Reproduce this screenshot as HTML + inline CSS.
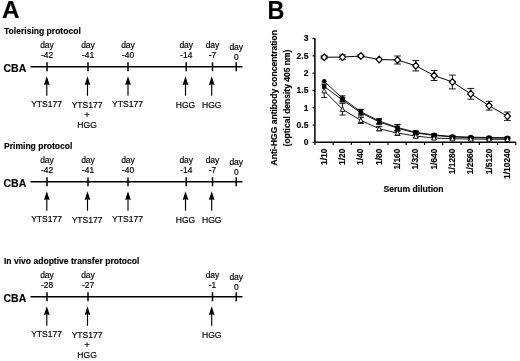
<!DOCTYPE html>
<html><head><meta charset="utf-8"><title>Figure</title>
<style>
html,body{margin:0;padding:0;background:#fff;}
svg{display:block;will-change:transform;}
text{font-family:"Liberation Sans",sans-serif;fill:#000;}
.b{font-weight:bold;}
.r{font-weight:normal;stroke:#000;stroke-width:0.18px;}
.b{stroke:#000;stroke-width:0.14px;}
</style></head>
<body>
<svg width="520" height="361" viewBox="0 0 520 361">
<rect width="520" height="361" fill="#fff"/>
<text x="2.0" y="17.7" class="b" font-size="24.3">A</text>
<text x="267.5" y="18.7" class="b" font-size="25.4" textLength="16.9" lengthAdjust="spacingAndGlyphs">B</text>
<text x="4" y="33.55" class="b" font-size="8.55">Tolerising protocol</text>
<text x="3.5" y="71.95" class="b" font-size="10.5">CBA</text>
<line x1="30.5" y1="66.75" x2="242.5" y2="66.75" stroke="#000" stroke-width="1.6"/>
<line x1="47" y1="62.25" x2="47" y2="71.25" stroke="#000" stroke-width="1.5"/>
<line x1="88" y1="62.25" x2="88" y2="71.25" stroke="#000" stroke-width="1.5"/>
<line x1="128" y1="62.25" x2="128" y2="71.25" stroke="#000" stroke-width="1.5"/>
<line x1="186.25" y1="62.25" x2="186.25" y2="71.25" stroke="#000" stroke-width="1.5"/>
<line x1="212.5" y1="62.25" x2="212.5" y2="71.25" stroke="#000" stroke-width="1.5"/>
<line x1="236.25" y1="62.25" x2="236.25" y2="71.25" stroke="#000" stroke-width="1.5"/>
<text x="47" y="48.15" class="r" text-anchor="middle" font-size="8.5">day</text>
<text x="47" y="58.20" class="r" text-anchor="middle" font-size="8.4">-42</text>
<text x="88" y="48.15" class="r" text-anchor="middle" font-size="8.5">day</text>
<text x="88" y="58.20" class="r" text-anchor="middle" font-size="8.4">-41</text>
<text x="128" y="48.15" class="r" text-anchor="middle" font-size="8.5">day</text>
<text x="128" y="58.20" class="r" text-anchor="middle" font-size="8.4">-40</text>
<text x="186.25" y="48.15" class="r" text-anchor="middle" font-size="8.5">day</text>
<text x="186.25" y="58.20" class="r" text-anchor="middle" font-size="8.4">-14</text>
<text x="212.5" y="48.15" class="r" text-anchor="middle" font-size="8.5">day</text>
<text x="212.5" y="58.20" class="r" text-anchor="middle" font-size="8.4">-7</text>
<text x="236.25" y="49.75" class="r" text-anchor="middle" font-size="8.5">day</text>
<text x="236.25" y="59.80" class="r" text-anchor="middle" font-size="8.4">0</text>
<line x1="46.8" y1="83.75" x2="46.8" y2="95.75" stroke="#000" stroke-width="1.15"/>
<path d="M46.8 76.15 L49.65 84.95 L46.8 84.25 L43.949999999999996 84.95 Z" fill="#000"/>
<text x="46.6" y="107.35" class="r" text-anchor="middle" font-size="8.55">YTS177</text>
<line x1="87.5" y1="83.75" x2="87.5" y2="95.75" stroke="#000" stroke-width="1.15"/>
<path d="M87.5 76.15 L90.35 84.95 L87.5 84.25 L84.65 84.95 Z" fill="#000"/>
<text x="87.1" y="107.75" class="r" text-anchor="middle" font-size="8.55">YTS177</text>
<text x="87.1" y="118.30" class="r" text-anchor="middle" font-size="9.5">+</text>
<text x="87.1" y="127.95" class="r" text-anchor="middle" font-size="8.55">HGG</text>
<line x1="128" y1="83.75" x2="128" y2="95.75" stroke="#000" stroke-width="1.15"/>
<path d="M128 76.15 L130.85 84.95 L128 84.25 L125.15 84.95 Z" fill="#000"/>
<text x="127.5" y="107.35" class="r" text-anchor="middle" font-size="8.55">YTS177</text>
<line x1="185.5" y1="83.75" x2="185.5" y2="95.75" stroke="#000" stroke-width="1.15"/>
<path d="M185.5 76.15 L188.35 84.95 L185.5 84.25 L182.65 84.95 Z" fill="#000"/>
<text x="185.5" y="107.55" class="r" text-anchor="middle" font-size="8.55">HGG</text>
<line x1="211.7" y1="83.75" x2="211.7" y2="95.75" stroke="#000" stroke-width="1.15"/>
<path d="M211.7 76.15 L214.54999999999998 84.95 L211.7 84.25 L208.85 84.95 Z" fill="#000"/>
<text x="211.7" y="107.55" class="r" text-anchor="middle" font-size="8.55">HGG</text>
<text x="4" y="148.55" class="b" font-size="8.55">Priming protocol</text>
<text x="3.5" y="186.95" class="b" font-size="10.5">CBA</text>
<line x1="30.5" y1="181.75" x2="242.5" y2="181.75" stroke="#000" stroke-width="1.6"/>
<line x1="47" y1="177.25" x2="47" y2="186.25" stroke="#000" stroke-width="1.5"/>
<line x1="88" y1="177.25" x2="88" y2="186.25" stroke="#000" stroke-width="1.5"/>
<line x1="128" y1="177.25" x2="128" y2="186.25" stroke="#000" stroke-width="1.5"/>
<line x1="186.25" y1="177.25" x2="186.25" y2="186.25" stroke="#000" stroke-width="1.5"/>
<line x1="212.5" y1="177.25" x2="212.5" y2="186.25" stroke="#000" stroke-width="1.5"/>
<line x1="236.25" y1="177.25" x2="236.25" y2="186.25" stroke="#000" stroke-width="1.5"/>
<text x="47" y="163.15" class="r" text-anchor="middle" font-size="8.5">day</text>
<text x="47" y="173.20" class="r" text-anchor="middle" font-size="8.4">-42</text>
<text x="88" y="163.15" class="r" text-anchor="middle" font-size="8.5">day</text>
<text x="88" y="173.20" class="r" text-anchor="middle" font-size="8.4">-41</text>
<text x="128" y="163.15" class="r" text-anchor="middle" font-size="8.5">day</text>
<text x="128" y="173.20" class="r" text-anchor="middle" font-size="8.4">-40</text>
<text x="186.25" y="163.15" class="r" text-anchor="middle" font-size="8.5">day</text>
<text x="186.25" y="173.20" class="r" text-anchor="middle" font-size="8.4">-14</text>
<text x="212.5" y="163.15" class="r" text-anchor="middle" font-size="8.5">day</text>
<text x="212.5" y="173.20" class="r" text-anchor="middle" font-size="8.4">-7</text>
<text x="236.25" y="164.75" class="r" text-anchor="middle" font-size="8.5">day</text>
<text x="236.25" y="174.80" class="r" text-anchor="middle" font-size="8.4">0</text>
<line x1="46.8" y1="198.75" x2="46.8" y2="210.75" stroke="#000" stroke-width="1.15"/>
<path d="M46.8 191.15 L49.65 199.95 L46.8 199.25 L43.949999999999996 199.95 Z" fill="#000"/>
<text x="46.6" y="222.35" class="r" text-anchor="middle" font-size="8.55">YTS177</text>
<line x1="87.5" y1="198.75" x2="87.5" y2="210.75" stroke="#000" stroke-width="1.15"/>
<path d="M87.5 191.15 L90.35 199.95 L87.5 199.25 L84.65 199.95 Z" fill="#000"/>
<text x="87.1" y="222.85" class="r" text-anchor="middle" font-size="8.55">YTS177</text>
<line x1="128" y1="198.75" x2="128" y2="210.75" stroke="#000" stroke-width="1.15"/>
<path d="M128 191.15 L130.85 199.95 L128 199.25 L125.15 199.95 Z" fill="#000"/>
<text x="127.5" y="222.35" class="r" text-anchor="middle" font-size="8.55">YTS177</text>
<line x1="185.5" y1="198.75" x2="185.5" y2="210.75" stroke="#000" stroke-width="1.15"/>
<path d="M185.5 191.15 L188.35 199.95 L185.5 199.25 L182.65 199.95 Z" fill="#000"/>
<text x="185.5" y="222.85" class="r" text-anchor="middle" font-size="8.55">HGG</text>
<line x1="211.7" y1="198.75" x2="211.7" y2="210.75" stroke="#000" stroke-width="1.15"/>
<path d="M211.7 191.15 L214.54999999999998 199.95 L211.7 199.25 L208.85 199.95 Z" fill="#000"/>
<text x="211.7" y="222.85" class="r" text-anchor="middle" font-size="8.55">HGG</text>
<text x="4" y="263.55" class="b" font-size="8.55">In vivo adoptive transfer protocol</text>
<text x="3.5" y="301.95" class="b" font-size="10.5">CBA</text>
<line x1="30.5" y1="296.75" x2="242.5" y2="296.75" stroke="#000" stroke-width="1.6"/>
<line x1="47" y1="292.25" x2="47" y2="301.25" stroke="#000" stroke-width="1.5"/>
<line x1="88" y1="292.25" x2="88" y2="301.25" stroke="#000" stroke-width="1.5"/>
<line x1="212.5" y1="292.25" x2="212.5" y2="301.25" stroke="#000" stroke-width="1.5"/>
<line x1="236.25" y1="292.25" x2="236.25" y2="301.25" stroke="#000" stroke-width="1.5"/>
<text x="47" y="278.15" class="r" text-anchor="middle" font-size="8.5">day</text>
<text x="47" y="288.20" class="r" text-anchor="middle" font-size="8.4">-28</text>
<text x="88" y="278.15" class="r" text-anchor="middle" font-size="8.5">day</text>
<text x="88" y="288.20" class="r" text-anchor="middle" font-size="8.4">-27</text>
<text x="212.5" y="278.15" class="r" text-anchor="middle" font-size="8.5">day</text>
<text x="212.5" y="288.20" class="r" text-anchor="middle" font-size="8.4">-1</text>
<text x="236.25" y="279.75" class="r" text-anchor="middle" font-size="8.5">day</text>
<text x="236.25" y="289.80" class="r" text-anchor="middle" font-size="8.4">0</text>
<line x1="46.8" y1="313.75" x2="46.8" y2="325.75" stroke="#000" stroke-width="1.15"/>
<path d="M46.8 306.15 L49.65 314.95 L46.8 314.25 L43.949999999999996 314.95 Z" fill="#000"/>
<text x="46.6" y="337.35" class="r" text-anchor="middle" font-size="8.55">YTS177</text>
<line x1="87.5" y1="313.75" x2="87.5" y2="325.75" stroke="#000" stroke-width="1.15"/>
<path d="M87.5 306.15 L90.35 314.95 L87.5 314.25 L84.65 314.95 Z" fill="#000"/>
<text x="87.1" y="337.75" class="r" text-anchor="middle" font-size="8.55">YTS177</text>
<text x="87.1" y="348.30" class="r" text-anchor="middle" font-size="9.5">+</text>
<text x="87.1" y="357.95" class="r" text-anchor="middle" font-size="8.55">HGG</text>
<line x1="211.7" y1="313.75" x2="211.7" y2="325.75" stroke="#000" stroke-width="1.15"/>
<path d="M211.7 306.15 L214.54999999999998 314.95 L211.7 314.25 L208.85 314.95 Z" fill="#000"/>
<text x="211.7" y="337.55" class="r" text-anchor="middle" font-size="8.55">HGG</text>
<path d="M314.9 38 V142.35 H516" stroke="#000" stroke-width="1.5" fill="none"/>
<line x1="312.5" y1="142.35" x2="314.9" y2="142.35" stroke="#000" stroke-width="1.1"/>
<text x="308.4" y="145.15" class="b" text-anchor="end" font-size="8.5">0</text>
<line x1="312.5" y1="125.05" x2="314.9" y2="125.05" stroke="#000" stroke-width="1.1"/>
<text x="308.4" y="127.85" class="b" text-anchor="end" font-size="8.5">0.5</text>
<line x1="312.5" y1="107.75" x2="314.9" y2="107.75" stroke="#000" stroke-width="1.1"/>
<text x="308.4" y="110.55" class="b" text-anchor="end" font-size="8.5">1</text>
<line x1="312.5" y1="90.45" x2="314.9" y2="90.45" stroke="#000" stroke-width="1.1"/>
<text x="308.4" y="93.25" class="b" text-anchor="end" font-size="8.5">1.5</text>
<line x1="312.5" y1="73.15" x2="314.9" y2="73.15" stroke="#000" stroke-width="1.1"/>
<text x="308.4" y="75.95" class="b" text-anchor="end" font-size="8.5">2</text>
<line x1="312.5" y1="55.85" x2="314.9" y2="55.85" stroke="#000" stroke-width="1.1"/>
<text x="308.4" y="58.65" class="b" text-anchor="end" font-size="8.5">2.5</text>
<line x1="312.5" y1="38.55" x2="314.9" y2="38.55" stroke="#000" stroke-width="1.1"/>
<text x="308.4" y="41.35" class="b" text-anchor="end" font-size="8.5">3</text>
<line x1="314.90" y1="142.35" x2="314.90" y2="144.95" stroke="#000" stroke-width="1.2"/>
<line x1="333.17" y1="142.35" x2="333.17" y2="144.95" stroke="#000" stroke-width="1.2"/>
<line x1="351.44" y1="142.35" x2="351.44" y2="144.95" stroke="#000" stroke-width="1.2"/>
<line x1="369.71" y1="142.35" x2="369.71" y2="144.95" stroke="#000" stroke-width="1.2"/>
<line x1="387.98" y1="142.35" x2="387.98" y2="144.95" stroke="#000" stroke-width="1.2"/>
<line x1="406.25" y1="142.35" x2="406.25" y2="144.95" stroke="#000" stroke-width="1.2"/>
<line x1="424.52" y1="142.35" x2="424.52" y2="144.95" stroke="#000" stroke-width="1.2"/>
<line x1="442.79" y1="142.35" x2="442.79" y2="144.95" stroke="#000" stroke-width="1.2"/>
<line x1="461.06" y1="142.35" x2="461.06" y2="144.95" stroke="#000" stroke-width="1.2"/>
<line x1="479.33" y1="142.35" x2="479.33" y2="144.95" stroke="#000" stroke-width="1.2"/>
<line x1="497.60" y1="142.35" x2="497.60" y2="144.95" stroke="#000" stroke-width="1.2"/>
<line x1="515.87" y1="142.35" x2="515.87" y2="144.95" stroke="#000" stroke-width="1.2"/>
<text transform="translate(326.70 148.6) rotate(-90)" class="b" text-anchor="end" font-size="8.4">1/10</text>
<text transform="translate(345.02 148.6) rotate(-90)" class="b" text-anchor="end" font-size="8.4">1/20</text>
<text transform="translate(363.34 148.6) rotate(-90)" class="b" text-anchor="end" font-size="8.4">1/40</text>
<text transform="translate(381.66 148.6) rotate(-90)" class="b" text-anchor="end" font-size="8.4">1/80</text>
<text transform="translate(399.98 148.6) rotate(-90)" class="b" text-anchor="end" font-size="8.4">1/160</text>
<text transform="translate(418.30 148.6) rotate(-90)" class="b" text-anchor="end" font-size="8.4">1/320</text>
<text transform="translate(436.62 148.6) rotate(-90)" class="b" text-anchor="end" font-size="8.4">1/640</text>
<text transform="translate(454.94 148.6) rotate(-90)" class="b" text-anchor="end" font-size="8.4">1/1280</text>
<text transform="translate(473.26 148.6) rotate(-90)" class="b" text-anchor="end" font-size="8.4">1/2560</text>
<text transform="translate(491.58 148.6) rotate(-90)" class="b" text-anchor="end" font-size="8.4">1/5120</text>
<text transform="translate(509.90 148.6) rotate(-90)" class="b" text-anchor="end" font-size="8.4">1/10240</text>
<text x="413.5" y="192.3" class="b" text-anchor="middle" font-size="8.6">Serum dilution</text>
<text transform="translate(277.0 97.8) rotate(-90)" class="b" text-anchor="middle" font-size="8.52">Anti-HGG antibody concentration</text>
<text transform="translate(289.7 98) rotate(-90)" class="b" text-anchor="middle" font-size="8.5">(optical density 405 nm)</text>
<polyline points="324.20,57.25 342.52,57.10 360.84,56.00 379.16,59.50 397.48,60.00 415.80,65.75 434.12,75.50 452.44,82.00 470.76,93.85 489.08,105.70 507.40,116.20" fill="none" stroke="#000" stroke-width="1.0"/>
<polyline points="324.20,90.80 342.52,109.31 360.84,120.38 379.16,128.68 397.48,133.01 415.80,136.12 434.12,138.03 452.44,138.72 470.76,139.06 489.08,139.24 507.40,139.41" fill="none" stroke="#000" stroke-width="0.9"/>
<polyline points="324.20,86.47 342.52,99.96 360.84,112.77 379.16,121.94 397.48,128.16 415.80,133.01 434.12,135.43 452.44,136.99 470.76,137.68 489.08,138.03 507.40,138.20" fill="none" stroke="#000" stroke-width="0.9"/>
<polyline points="324.20,81.28 342.52,98.41 360.84,111.73 379.16,121.07 397.48,127.47 415.80,132.32 434.12,134.91 452.44,136.47 470.76,137.16 489.08,137.51 507.40,137.68" fill="none" stroke="#000" stroke-width="0.9"/>
<path d="M324.20 55.75 V58.75 M320.80 55.75 H327.60 M320.80 58.75 H327.60" stroke="#000" stroke-width="0.9" fill="none"/>
<path d="M342.52 54.90 V59.30 M339.12 54.90 H345.92 M339.12 59.30 H345.92" stroke="#000" stroke-width="0.9" fill="none"/>
<path d="M360.84 54.80 V57.20 M357.44 54.80 H364.24 M357.44 57.20 H364.24" stroke="#000" stroke-width="0.9" fill="none"/>

<path d="M397.48 56.00 V64.00 M394.08 56.00 H400.88 M394.08 64.00 H400.88" stroke="#000" stroke-width="0.9" fill="none"/>
<path d="M415.80 60.55 V70.95 M412.40 60.55 H419.20 M412.40 70.95 H419.20" stroke="#000" stroke-width="0.9" fill="none"/>
<path d="M434.12 70.50 V80.50 M430.72 70.50 H437.52 M430.72 80.50 H437.52" stroke="#000" stroke-width="0.9" fill="none"/>
<path d="M452.44 75.10 V88.90 M449.04 75.10 H455.84 M449.04 88.90 H455.84" stroke="#000" stroke-width="0.9" fill="none"/>
<path d="M470.76 88.45 V99.25 M467.36 88.45 H474.16 M467.36 99.25 H474.16" stroke="#000" stroke-width="0.9" fill="none"/>
<path d="M489.08 101.30 V110.10 M485.68 101.30 H492.48 M485.68 110.10 H492.48" stroke="#000" stroke-width="0.9" fill="none"/>
<path d="M507.40 112.00 V120.40 M504.00 112.00 H510.80 M504.00 120.40 H510.80" stroke="#000" stroke-width="0.9" fill="none"/>
<path d="M324.20 84.05 V97.54 M321.20 84.05 H327.20 M321.20 97.54 H327.20" stroke="#000" stroke-width="0.9" fill="none"/>
<path d="M342.52 103.60 V115.02 M339.52 103.60 H345.52 M339.52 115.02 H345.52" stroke="#000" stroke-width="0.9" fill="none"/>
<path d="M360.84 117.26 V123.49 M357.84 117.26 H363.84 M357.84 123.49 H363.84" stroke="#000" stroke-width="0.9" fill="none"/>
<path d="M379.16 126.61 V130.76 M376.16 126.61 H382.16 M376.16 130.76 H382.16" stroke="#000" stroke-width="0.9" fill="none"/>
<path d="M397.48 130.59 V135.43 M394.48 130.59 H400.48 M394.48 135.43 H400.48" stroke="#000" stroke-width="0.9" fill="none"/>
<path d="M415.80 134.39 V137.85 M412.80 134.39 H418.80 M412.80 137.85 H418.80" stroke="#000" stroke-width="0.9" fill="none"/>
<path d="M434.12 136.64 V139.41 M431.12 136.64 H437.12 M431.12 139.41 H437.12" stroke="#000" stroke-width="0.9" fill="none"/>
<path d="M452.44 137.68 V139.75 M449.44 137.68 H455.44 M449.44 139.75 H455.44" stroke="#000" stroke-width="0.9" fill="none"/>
<path d="M470.76 138.02 V140.10 M467.76 138.02 H473.76 M467.76 140.10 H473.76" stroke="#000" stroke-width="0.9" fill="none"/>
<path d="M489.08 138.54 V139.93 M486.08 138.54 H492.08 M486.08 139.93 H492.08" stroke="#000" stroke-width="0.9" fill="none"/>
<path d="M507.40 138.72 V140.10 M504.40 138.72 H510.40 M504.40 140.10 H510.40" stroke="#000" stroke-width="0.9" fill="none"/>

<path d="M342.52 97.89 V102.04 M339.52 97.89 H345.52 M339.52 102.04 H345.52" stroke="#000" stroke-width="0.9" fill="none"/>
<path d="M360.84 109.65 V115.88 M357.84 109.65 H363.84 M357.84 115.88 H363.84" stroke="#000" stroke-width="0.9" fill="none"/>
<path d="M379.16 119.17 V124.70 M376.16 119.17 H382.16 M376.16 124.70 H382.16" stroke="#000" stroke-width="0.9" fill="none"/>
<path d="M397.48 124.70 V131.62 M394.48 124.70 H400.48 M394.48 131.62 H400.48" stroke="#000" stroke-width="0.9" fill="none"/>
<path d="M415.80 131.28 V134.74 M412.80 131.28 H418.80 M412.80 134.74 H418.80" stroke="#000" stroke-width="0.9" fill="none"/>
<path d="M434.12 134.05 V136.81 M431.12 134.05 H437.12 M431.12 136.81 H437.12" stroke="#000" stroke-width="0.9" fill="none"/>
<path d="M452.44 135.95 V138.03 M449.44 135.95 H455.44 M449.44 138.03 H455.44" stroke="#000" stroke-width="0.9" fill="none"/>
<path d="M470.76 136.99 V138.37 M467.76 136.99 H473.76 M467.76 138.37 H473.76" stroke="#000" stroke-width="0.9" fill="none"/>
<path d="M489.08 137.33 V138.72 M486.08 137.33 H492.08 M486.08 138.72 H492.08" stroke="#000" stroke-width="0.9" fill="none"/>
<path d="M507.40 137.51 V138.89 M504.40 137.51 H510.40 M504.40 138.89 H510.40" stroke="#000" stroke-width="0.9" fill="none"/>

<path d="M342.52 95.81 V101.00 M339.52 95.81 H345.52 M339.52 101.00 H345.52" stroke="#000" stroke-width="0.9" fill="none"/>
<path d="M360.84 109.31 V114.15 M357.84 109.31 H363.84 M357.84 114.15 H363.84" stroke="#000" stroke-width="0.9" fill="none"/>
<path d="M379.16 118.65 V123.49 M376.16 118.65 H382.16 M376.16 123.49 H382.16" stroke="#000" stroke-width="0.9" fill="none"/>
<path d="M397.48 124.70 V130.24 M394.48 124.70 H400.48 M394.48 130.24 H400.48" stroke="#000" stroke-width="0.9" fill="none"/>
<path d="M415.80 130.93 V133.70 M412.80 130.93 H418.80 M412.80 133.70 H418.80" stroke="#000" stroke-width="0.9" fill="none"/>
<path d="M434.12 133.87 V135.95 M431.12 133.87 H437.12 M431.12 135.95 H437.12" stroke="#000" stroke-width="0.9" fill="none"/>
<path d="M452.44 135.78 V137.16 M449.44 135.78 H455.44 M449.44 137.16 H455.44" stroke="#000" stroke-width="0.9" fill="none"/>
<path d="M470.76 136.47 V137.85 M467.76 136.47 H473.76 M467.76 137.85 H473.76" stroke="#000" stroke-width="0.9" fill="none"/>
<path d="M489.08 136.81 V138.20 M486.08 136.81 H492.08 M486.08 138.20 H492.08" stroke="#000" stroke-width="0.9" fill="none"/>
<path d="M507.40 136.99 V138.37 M504.40 136.99 H510.40 M504.40 138.37 H510.40" stroke="#000" stroke-width="0.9" fill="none"/>
<path d="M324.20 53.80 L327.30 57.25 L324.20 60.70 L321.10 57.25 Z" fill="#fff" stroke="#000" stroke-width="1.25" stroke-linejoin="round"/>
<path d="M342.52 53.65 L345.62 57.10 L342.52 60.55 L339.42 57.10 Z" fill="#fff" stroke="#000" stroke-width="1.25" stroke-linejoin="round"/>
<path d="M360.84 52.55 L363.94 56.00 L360.84 59.45 L357.74 56.00 Z" fill="#fff" stroke="#000" stroke-width="1.25" stroke-linejoin="round"/>
<path d="M379.16 56.05 L382.26 59.50 L379.16 62.95 L376.06 59.50 Z" fill="#fff" stroke="#000" stroke-width="1.25" stroke-linejoin="round"/>
<path d="M397.48 56.55 L400.58 60.00 L397.48 63.45 L394.38 60.00 Z" fill="#fff" stroke="#000" stroke-width="1.25" stroke-linejoin="round"/>
<path d="M415.80 62.30 L418.90 65.75 L415.80 69.20 L412.70 65.75 Z" fill="#fff" stroke="#000" stroke-width="1.25" stroke-linejoin="round"/>
<path d="M434.12 72.05 L437.22 75.50 L434.12 78.95 L431.02 75.50 Z" fill="#fff" stroke="#000" stroke-width="1.25" stroke-linejoin="round"/>
<path d="M452.44 78.55 L455.54 82.00 L452.44 85.45 L449.34 82.00 Z" fill="#fff" stroke="#000" stroke-width="1.25" stroke-linejoin="round"/>
<path d="M470.76 90.40 L473.86 93.85 L470.76 97.30 L467.66 93.85 Z" fill="#fff" stroke="#000" stroke-width="1.25" stroke-linejoin="round"/>
<path d="M489.08 102.25 L492.18 105.70 L489.08 109.15 L485.98 105.70 Z" fill="#fff" stroke="#000" stroke-width="1.25" stroke-linejoin="round"/>
<path d="M507.40 112.75 L510.50 116.20 L507.40 119.65 L504.30 116.20 Z" fill="#fff" stroke="#000" stroke-width="1.25" stroke-linejoin="round"/>
<rect x="322.00" y="84.27" width="4.4" height="4.4" fill="#000"/>
<rect x="340.32" y="97.76" width="4.4" height="4.4" fill="#000"/>
<rect x="358.64" y="110.57" width="4.4" height="4.4" fill="#000"/>
<rect x="376.96" y="119.74" width="4.4" height="4.4" fill="#000"/>
<rect x="395.28" y="125.96" width="4.4" height="4.4" fill="#000"/>
<rect x="413.60" y="130.81" width="4.4" height="4.4" fill="#000"/>
<rect x="431.92" y="133.23" width="4.4" height="4.4" fill="#000"/>
<rect x="450.24" y="134.79" width="4.4" height="4.4" fill="#000"/>
<rect x="468.56" y="135.48" width="4.4" height="4.4" fill="#000"/>
<rect x="486.88" y="135.83" width="4.4" height="4.4" fill="#000"/>
<rect x="505.20" y="136.00" width="4.4" height="4.4" fill="#000"/>
<circle cx="324.20" cy="81.28" r="2.3" fill="#000"/>
<circle cx="342.52" cy="98.41" r="2.3" fill="#000"/>
<circle cx="360.84" cy="111.73" r="2.3" fill="#000"/>
<circle cx="379.16" cy="121.07" r="2.3" fill="#000"/>
<circle cx="397.48" cy="127.47" r="2.3" fill="#000"/>
<circle cx="415.80" cy="132.32" r="2.3" fill="#000"/>
<circle cx="434.12" cy="134.91" r="2.3" fill="#000"/>
<circle cx="452.44" cy="136.47" r="2.3" fill="#000"/>
<circle cx="470.76" cy="137.16" r="2.3" fill="#000"/>
<circle cx="489.08" cy="137.51" r="2.3" fill="#000"/>
<circle cx="507.40" cy="137.68" r="2.3" fill="#000"/>
<path d="M324.20 88.20 L326.45 92.90 L321.95 92.90 Z" fill="#fff" stroke="#000" stroke-width="0.9"/>
<path d="M342.52 106.71 L344.77 111.41 L340.27 111.41 Z" fill="#fff" stroke="#000" stroke-width="0.9"/>
<path d="M360.84 117.78 L363.09 122.48 L358.59 122.48 Z" fill="#fff" stroke="#000" stroke-width="0.9"/>
<path d="M379.16 126.08 L381.41 130.78 L376.91 130.78 Z" fill="#fff" stroke="#000" stroke-width="0.9"/>
<path d="M397.48 130.41 L399.73 135.11 L395.23 135.11 Z" fill="#fff" stroke="#000" stroke-width="0.9"/>
<path d="M415.80 133.52 L418.05 138.22 L413.55 138.22 Z" fill="#fff" stroke="#000" stroke-width="0.9"/>
<path d="M434.12 135.43 L436.37 140.12 L431.87 140.12 Z" fill="#fff" stroke="#000" stroke-width="0.9"/>
<path d="M452.44 136.12 L454.69 140.82 L450.19 140.82 Z" fill="#fff" stroke="#000" stroke-width="0.9"/>
<path d="M470.76 136.46 L473.01 141.16 L468.51 141.16 Z" fill="#fff" stroke="#000" stroke-width="0.9"/>
<path d="M489.08 136.64 L491.33 141.34 L486.83 141.34 Z" fill="#fff" stroke="#000" stroke-width="0.9"/>
<path d="M507.40 136.81 L509.65 141.51 L505.15 141.51 Z" fill="#fff" stroke="#000" stroke-width="0.9"/>
</svg>
</body></html>
